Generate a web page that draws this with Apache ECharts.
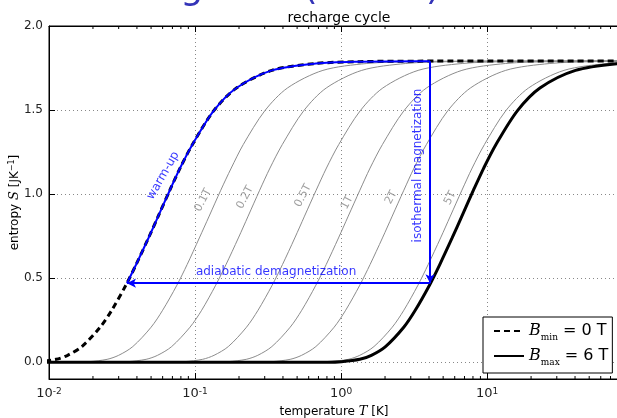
<!DOCTYPE html>
<html>
<head>
<meta charset="utf-8">
<script src="https://cdn.jsdelivr.net/npm/echarts@6/dist/echarts.min.js"></script>
<style>
  html, body { margin: 0; padding: 0; background: #fff; }
  #chart { width: 617px; height: 418px; }
</style>
</head>
<body>
<div id="chart"></div>
<script>
// entropy values (same levels for each field curve)
const sLevels = [0, 0, 0.003, 0.017, 0.041, 0.093, 0.208, 0.309, 0.458, 0.581, 0.739, 0.869, 1.023, 1.155, 1.295, 1.495, 1.631, 1.736, 1.777, 1.788, 1.791, 1.792];

// temperatures [K] where each curve reaches those levels
const tBmin = [0.005, 0.0067, 0.0084, 0.0112, 0.0134, 0.0168, 0.0224, 0.0269, 0.0336, 0.0395, 0.048, 0.056, 0.0672, 0.079, 0.096, 0.134, 0.192, 0.336, 0.672, 1.34, 3.36, 134];
const tB01 = [0.005, 0.015, 0.0188, 0.025, 0.03, 0.0375, 0.05, 0.06, 0.0751, 0.0883, 0.107, 0.125, 0.150, 0.177, 0.214, 0.300, 0.429, 0.751, 1.50, 3.00, 7.5, 300];
const tB02 = [0.005, 0.0277, 0.0346, 0.0462, 0.0554, 0.0692, 0.0923, 0.111, 0.1385, 0.163, 0.198, 0.231, 0.277, 0.326, 0.396, 0.554, 0.791, 1.385, 2.77, 5.54, 13.8, 554];
const tB05 = [0.005, 0.0675, 0.0844, 0.1125, 0.135, 0.169, 0.225, 0.27, 0.3375, 0.397, 0.482, 0.562, 0.675, 0.794, 0.964, 1.35, 1.93, 3.37, 6.75, 13.5, 33.7, 1350];
const tB1 = [0.005, 0.1345, 0.168, 0.224, 0.269, 0.336, 0.448, 0.538, 0.672, 0.791, 0.96, 1.12, 1.345, 1.58, 1.92, 2.69, 3.84, 6.72, 13.4, 26.9, 67.2, 2690];
const tB2 = [0.005, 0.269, 0.336, 0.448, 0.537, 0.672, 0.896, 1.075, 1.343, 1.58, 1.92, 2.24, 2.69, 3.16, 3.84, 5.37, 7.68, 13.4, 26.9, 53.7, 134, 5370];
const tB5 = [0.005, 0.672, 0.839, 1.12, 1.343, 1.68, 2.24, 2.69, 3.36, 3.95, 4.80, 5.60, 6.72, 7.90, 9.59, 13.4, 19.2, 33.6, 67.2, 134, 336, 13400];
const tBmax = [0.005, 0.806, 1.007, 1.343, 1.612, 2.015, 2.686, 3.22, 4.03, 4.74, 5.76, 6.72, 8.06, 9.48, 11.5, 16.1, 23.0, 40.3, 80.6, 161, 403, 16100];

const grayCurves = [tB01, tB02, tB05, tB1, tB2, tB5];
const grayLabels = ['0.1T', '0.2T', '0.5T', '1T', '2T', '5T'];
const grayLabelT = [0.1135, 0.22, 0.549, 1.10, 2.20, 5.58];
const grayLabelS = [0.964, 0.98, 0.99, 0.95, 0.98, 0.976];

// warm-up path (follows B=0 curve) and the cycle corners
const warmT = [0.0342, 0.0395, 0.048, 0.056, 0.0672, 0.079, 0.096, 0.134, 0.192, 0.336, 0.672, 1.34, 3.36, 4.07];
const warmS = [0.47, 0.581, 0.739, 0.869, 1.023, 1.155, 1.295, 1.495, 1.631, 1.736, 1.777, 1.788, 1.791, 1.791];
const cycleT = [0.0342, 4.07];
const cycleS = [0.47, 1.791];

const minorTickT = [0.02, 0.03, 0.04, 0.05, 0.06, 0.07, 0.08, 0.09,
  0.2, 0.3, 0.4, 0.5, 0.6, 0.7, 0.8, 0.9,
  2, 3, 4, 5, 6, 7, 8, 9,
  20, 30, 40, 50, 60, 70];

const zip = (xs, ys) => xs.map((x, i) => [x, ys[i]]);
const FONT = 'DejaVu Sans';

const chart = echarts.init(document.getElementById('chart'));

const series = [];
grayCurves.forEach((temps, i) => {
  series.push({
    name: grayLabels[i],
    type: 'line',
    data: zip(temps, sLevels),
    symbol: 'none',
    smooth: 0.3,
    lineStyle: { color: '#8c8c8c', width: 1 },
    z: 2,
    silent: true
  });
});

series.push({
  name: 'Bmin',
  type: 'line',
  data: zip(tBmin, sLevels),
  symbol: 'none',
  smooth: 0.3,
  itemStyle: { color: '#000' },
  lineStyle: { color: '#000', width: 3, type: [6, 4] },
  z: 3
});
series.push({
  name: 'Bmax',
  type: 'line',
  data: zip(tBmax, sLevels),
  symbol: 'none',
  smooth: 0.3,
  itemStyle: { color: '#000' },
  lineStyle: { color: '#000', width: 3 },
  z: 3
});

// warm-up curve + the two arrows of the cycle
series.push({
  name: 'warm',
  type: 'line',
  data: zip(warmT, warmS),
  symbol: 'none',
  smooth: 0.3,
  lineStyle: { color: '#0000ff', width: 2 },
  z: 4,
  silent: true,
  markLine: {
    silent: true,
    animation: false,
    symbol: ['none', 'arrow'],
    symbolSize: [7, 9],
    label: { show: false },
    lineStyle: { color: '#0000ff', width: 2, type: 'solid' },
    data: [
      [{ coord: [cycleT[1], cycleS[0]] }, { coord: [cycleT[0], cycleS[0]] }],
      [{ coord: [cycleT[1], cycleS[1]] }, { coord: [cycleT[1], cycleS[0]] }]
    ]
  }
});

// field labels on the gray curves
series.push({
  type: 'scatter',
  symbolSize: 0,
  silent: true,
  z: 5,
  data: grayLabels.map((name, i) => ({ name: name, value: [grayLabelT[i], grayLabelS[i]] })),
  label: {
    show: true, position: 'inside', formatter: '{b}', rotate: 62,
    color: '#888', fontFamily: FONT, fontSize: 11
  }
});

// blue annotations
series.push({
  type: 'scatter',
  symbolSize: 0,
  silent: true,
  z: 5,
  label: { show: true, position: 'inside', formatter: '{b}', color: '#0000ff', fontFamily: FONT, fontSize: 12 },
  data: [
    { name: 'warm-up', value: [0.0604, 1.11], label: { rotate: 60 } },
    { name: 'adiabatic demagnetization', value: [0.359, 0.54] },
    { name: 'isothermal magnetization', value: [3.37, 1.17], label: { rotate: 90 } }
  ]
});

// minor log ticks, bottom and top frame
series.push({
  type: 'custom',
  silent: true,
  z: 6,
  data: minorTickT.map(t => [t, 0]),
  renderItem: function (params, api) {
    const b = api.coord([api.value(0), -0.1]);
    const t = api.coord([api.value(0), 2.0]);
    const st = { stroke: '#000', lineWidth: 1 };
    return {
      type: 'group',
      children: [
        { type: 'line', shape: { x1: b[0], y1: b[1], x2: b[0], y2: b[1] - 3 }, style: st },
        { type: 'line', shape: { x1: t[0], y1: t[1], x2: t[0], y2: t[1] + 3 }, style: st }
      ]
    };
  }
});

const legendNames = {
  Bmin: '{b|B}{sub|min}{eq| = }{n|0 T}',
  Bmax: '{b|B}{sub|max}{eq| = }{n|6 T}'
};

const option = {
  backgroundColor: '#fff',
  animation: false,
  title: {
    text: 'recharge cycle',
    left: 334,
    textAlign: 'center',
    top: 6,
    textStyle: { fontFamily: FONT, fontSize: 14, fontWeight: 'normal', color: '#000' }
  },
  graphic: [{
    type: 'text',
    right: 177,
    top: -28,
    style: {
      text: 'The adiabatic magnetic (ADMR)',
      fill: '#3434b8',
      font: '36px "DejaVu Sans"'
    }
  }],
  legend: {
    orient: 'vertical',
    left: 483,
    top: 317,
    data: ['Bmin', 'Bmax'],
    backgroundColor: '#fff',
    borderColor: '#000',
    borderWidth: 1,
    borderRadius: 0,
    padding: [6, 4, 6, 10],
    itemGap: 6,
    itemWidth: 30,
    itemHeight: 14,
    itemStyle: { opacity: 0 },
    formatter: name => legendNames[name],
    textStyle: {
      color: '#000',
      rich: {
        b: { fontFamily: 'DejaVu Serif', fontStyle: 'italic', fontSize: 16, color: '#000' },
        sub: { fontFamily: 'DejaVu Serif', fontSize: 9, color: '#000', verticalAlign: 'bottom', lineHeight: 22 },
        eq: { fontFamily: 'DejaVu Serif', fontSize: 16, color: '#000' },
        n: { fontFamily: FONT, fontSize: 16, color: '#000' }
      }
    }
  },
  grid: {
    left: 49, right: -2, top: 26, bottom: 39,
    outerBoundsMode: 'none',
    containLabel: false,
    show: true, borderColor: '#000', borderWidth: 1
  },
  xAxis: [{
    type: 'log',
    logBase: 10,
    min: 0.01,
    max: 80,
    splitNumber: 4,
    name: '{a|temperature }{i|T}{a| [K]}',
    nameLocation: 'middle',
    nameGap: 26,
    nameMoveOverlap: false,
    nameTextStyle: {
      rich: {
        a: { fontFamily: FONT, fontSize: 12, color: '#000' },
        i: { fontFamily: 'DejaVu Serif', fontStyle: 'italic', fontSize: 13, color: '#000' }
      }
    },
    axisLine: { onZero: false, lineStyle: { color: '#000', width: 1 } },
    axisTick: { inside: true, length: 6, lineStyle: { color: '#000' } },
    axisLabel: {
      showMaxLabel: false,
      margin: 8,
      formatter: v => '{b|10}{s|' + Math.round(Math.log10(v)) + '}',
      rich: {
        b: { fontFamily: FONT, fontSize: 13, color: '#222' },
        s: { fontFamily: FONT, fontSize: 9, color: '#222', verticalAlign: 'top', lineHeight: 14 }
      }
    },
    splitLine: { show: true, lineStyle: { color: '#888', type: [1, 3], width: 1 } }
  }, {
    type: 'log',
    logBase: 10,
    min: 0.01,
    max: 80,
    splitNumber: 4,
    position: 'top',
    axisLine: { onZero: false, lineStyle: { color: '#000', width: 1 } },
    axisTick: { inside: true, length: 6, lineStyle: { color: '#000' } },
    axisLabel: { show: false },
    splitLine: { show: false }
  }],
  yAxis: {
    type: 'value',
    min: -0.1,
    max: 2.0,
    splitNumber: 4,
    name: '{a|entropy }{i|S}{a| [JK}{s|−1}{a|]}',
    nameLocation: 'middle',
    nameGap: 28,
    nameMoveOverlap: false,
    nameTextStyle: {
      rich: {
        a: { fontFamily: FONT, fontSize: 12, color: '#000' },
        i: { fontFamily: 'DejaVu Serif', fontStyle: 'italic', fontSize: 13, color: '#000' },
        s: { fontFamily: FONT, fontSize: 8, color: '#000', verticalAlign: 'top', lineHeight: 12 }
      }
    },
    axisLine: { show: true, onZero: false, lineStyle: { color: '#000', width: 1 } },
    axisTick: { show: true, inside: true, length: 6, lineStyle: { color: '#000' } },
    axisLabel: {
      showMinLabel: false,
      fontFamily: FONT, fontSize: 12, color: '#222', margin: 6,
      formatter: v => v.toFixed(1)
    },
    splitLine: { show: true, lineStyle: { color: '#888', type: [1, 3], width: 1 } }
  },
  series: series
};

chart.setOption(option);
</script>
</body>
</html>
